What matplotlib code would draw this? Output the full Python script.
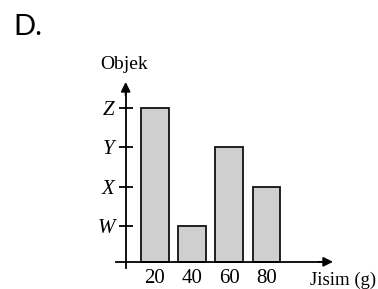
import matplotlib
matplotlib.use("Agg")
import matplotlib.pyplot as plt

# Data
masses = ["20", "40", "60", "80"]
objects = ["W", "X", "Y", "Z"]
bar_objects = ["Z", "W", "Y", "X"]   # object level of each mass bar

obj_level = {o: i + 1 for i, o in enumerate(objects)}
values = [obj_level[o] for o in bar_objects]

W, H = 378, 289
fig = plt.figure(figsize=(W / 100, H / 100), dpi=100)
fig.patch.set_facecolor("white")

# axes placed in pixel terms
left_px, right_px, top_px, bot_px = 116, 333, 82, 268
ax = fig.add_axes([left_px / W, (H - bot_px) / H, (right_px - left_px) / W, (bot_px - top_px) / H])
ax.set_facecolor("none")
ax.set_xlim(-1.04, 4.79)
ax.set_ylim(-0.06, 4.65)

base = 0.096
yaxis_x = -0.78
xs = list(range(len(masses)))
ax.bar(xs, [v - base for v in values], bottom=base, width=0.745,
       color="#cfcfcf", edgecolor="#111111", linewidth=1.3, zorder=2)

serif = ["Liberation Serif", "DejaVu Serif"]

for s in ["top", "right"]:
    ax.spines[s].set_visible(False)
ax.spines["left"].set_position(("data", yaxis_x))
ax.spines["bottom"].set_position(("data", base))
ax.spines["left"].set_linewidth(1.3)
ax.spines["bottom"].set_linewidth(1.3)
ax.spines["left"].set_bounds(-0.06, 4.4)
ax.spines["bottom"].set_bounds(-1.04, 4.5)

# arrow heads
ax.annotate("", xy=(yaxis_x, 4.65), xytext=(yaxis_x, 4.3),
            arrowprops=dict(arrowstyle="-|>", color="black", lw=1.3,
                            mutation_scale=14, shrinkA=0, shrinkB=0))
ax.annotate("", xy=(4.79, base), xytext=(4.4, base),
            arrowprops=dict(arrowstyle="-|>", color="black", lw=1.3,
                            mutation_scale=14, shrinkA=0, shrinkB=0))

ax.set_yticks([obj_level[o] for o in objects])
ax.set_yticklabels(objects, fontfamily=serif, fontstyle="italic", fontsize=15)
ax.tick_params(axis="y", direction="inout", length=10, width=1.3, pad=3)
ax.set_xticks(xs)
ax.set_xticklabels(masses, fontfamily=serif, fontsize=15)
ax.tick_params(axis="x", length=0, pad=5)

fig.text(100 / W, (H - 69) / H, "Objek", fontfamily=serif, fontsize=14,
         ha="left", va="baseline")
fig.text(376 / W, (H - 285) / H, "Jisim (g)", fontfamily=serif, fontsize=13.5,
         ha="right", va="baseline")
fig.text(13 / W, (H - 35) / H, "D.", fontfamily=["Lato", "DejaVu Sans"],
         fontweight="normal", fontsize=21, ha="left", va="baseline")

fig.savefig("out.png", dpi=100)
